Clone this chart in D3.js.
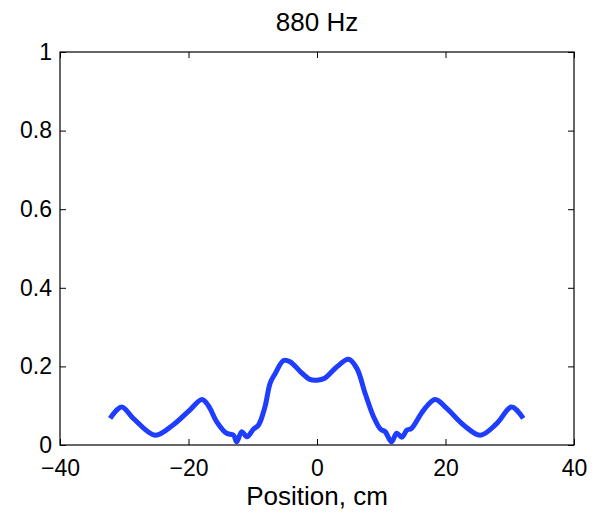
<!DOCTYPE html>
<html>
<head>
<meta charset="utf-8">
<script src="https://cdn.jsdelivr.net/npm/d3@7"></script>
<style>
  body { margin: 0; background: #fff; }
  svg text { font-family: "Liberation Sans", Helvetica, Arial, sans-serif; fill: #000; }
</style>
</head>
<body>
<div id="chart"></div>
<script>
// values
let title = "880 Hz";
let xLabel = "Position, cm";
let xTicks = [-40, -20, 0, 20, 40];
let yTicks = [0, 0.2, 0.4, 0.6, 0.8, 1];
let position = [-32.2, -30.4, -28.6, -25.2, -22.4, -19.8, -17.9, -16.9, -15.6, -14.1, -13.0, -12.5, -11.7, -10.9, -9.9, -9.1,
    -8.1, -7.3, -6.5, -5.2, -4.2, -2.6, -1.1, 0, 1.2, 3.1, 4.9, 6.2, 7.5, 8.8, 9.9, 10.6, 11.6, 12.4, 13.2, 14.0, 14.7,
    16.6, 18.4, 20.2, 22.8, 25.4, 28.0, 30.3, 32.1];
let amplitude = [0.068, 0.097, 0.068, 0.025, 0.051, 0.089, 0.116, 0.100, 0.059, 0.030, 0.025, 0.008, 0.034, 0.021, 0.040, 0.051,
    0.097, 0.157, 0.182, 0.215, 0.212, 0.187, 0.167, 0.165, 0.170, 0.199, 0.218, 0.195, 0.131, 0.072, 0.040, 0.034, 0.008, 0.030, 0.020, 0.038, 0.042,
    0.089, 0.116, 0.093, 0.051, 0.025, 0.055, 0.097, 0.068];

let width = 597, height = 514;
let margin = {left: 60, right: 23, top: 52, bottom: 69};
let tickFont = 23, labelFont = 26;

let svg = d3.select("#chart").append("svg").attr("width", width).attr("height", height);

let x = d3.scaleLinear().domain([-40, 40]).range([margin.left, width - margin.right]);
let y = d3.scaleLinear().domain([0, 1]).range([height - margin.bottom, margin.top]);

/* inward ticks on all four sides, like a boxed matlab axes */
function styleAxis(g) {
    g.select(".domain").remove();
    g.selectAll("line").attr("stroke", "#000").attr("stroke-width", 1);
    g.selectAll("text").attr("font-size", tickFont);
}
let fmt = d => d3.format("")(d).replace("-", "\u2212");

svg.append("g").attr("transform", "translate(0," + y(0) + ")")
    .call(d3.axisBottom(x).tickValues(xTicks).tickSize(-6).tickPadding(15).tickFormat(fmt))
    .call(styleAxis);
svg.append("g").attr("transform", "translate(0," + y(1) + ")")
    .call(d3.axisTop(x).tickValues(xTicks).tickSize(-6).tickFormat(""))
    .call(styleAxis);
svg.append("g").attr("transform", "translate(" + x(-40) + ",0)")
    .call(d3.axisLeft(y).tickValues(yTicks).tickSize(-6).tickPadding(8).tickFormat(d3.format("")))
    .call(styleAxis);
svg.append("g").attr("transform", "translate(" + x(40) + ",0)")
    .call(d3.axisRight(y).tickValues(yTicks).tickSize(-6).tickFormat(""))
    .call(styleAxis);

// frame
svg.append("rect")
    .attr("x", x(-40)).attr("y", y(1))
    .attr("width", x(40) - x(-40)).attr("height", y(0) - y(1))
    .attr("fill", "none").attr("stroke", "#000").attr("stroke-width", 1.2);

let line = d3.line()
    .x((d, i) => x(position[i]))
    .y(d => y(d))
    .curve(d3.curveCatmullRom);

svg.append("path")
    .datum(amplitude)
    .attr("d", line)
    .attr("fill", "none")
    .attr("stroke", "#1f3dff")
    .attr("stroke-width", 5)
    .attr("stroke-linejoin", "round");

svg.append("text")
    .attr("x", (x(-40) + x(40)) / 2).attr("y", 31)
    .attr("text-anchor", "middle").attr("font-size", labelFont)
    .text(title);

svg.append("text")
    .attr("x", (x(-40) + x(40)) / 2).attr("y", 505)
    .attr("text-anchor", "middle").attr("font-size", labelFont)
    .text(xLabel);
</script>
</body>
</html>
